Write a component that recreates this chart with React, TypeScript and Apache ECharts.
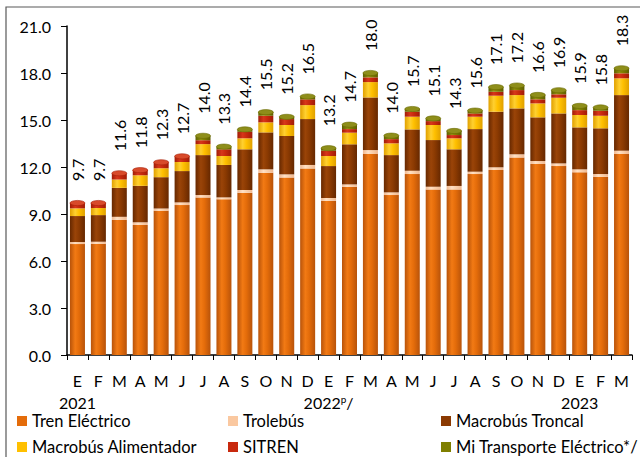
import React, { useEffect, useRef } from "react";
import * as echarts from "echarts";

const months = ["E","F","M","A","M","J","J","A","S","O","N","D","E","F","M","A","M","J","J","A","S","O","N","D","E","F","M"];
const years = ["2021","","","","","","","","","","","","2022{p|p}/","","","","","","","","","","","","2023","",""];
const totals = [9.7,9.7,11.6,11.8,12.3,12.7,14.0,13.3,14.4,15.5,15.2,16.5,13.2,14.7,18.0,14.0,15.7,15.1,14.3,15.6,17.1,17.2,16.6,16.9,15.9,15.8,18.3];

const trenElectrico = [7.08,7.1,8.62,8.3,9.2,9.57,10.06,9.94,10.36,11.63,11.33,11.91,9.85,10.74,12.83,10.21,11.55,10.57,10.57,11.55,11.81,12.61,12.19,12.06,11.66,11.38,12.83];
const trolebus = [0.13,0.13,0.2,0.17,0.15,0.17,0.15,0.12,0.17,0.22,0.2,0.22,0.17,0.15,0.25,0.17,0.21,0.17,0.22,0.15,0.17,0.2,0.19,0.17,0.19,0.17,0.21];
const macrobusTroncal = [1.66,1.7,1.85,2.33,2.0,2.0,2.55,2.07,2.6,2.36,2.45,2.93,2.04,2.56,3.36,2.38,2.64,2.98,2.34,2.72,3.55,2.93,2.79,3.19,2.68,2.92,3.55];
const macrobusAlimentador = [0.49,0.45,0.53,0.67,0.57,0.58,0.7,0.57,0.7,0.64,0.7,0.89,0.64,0.74,0.98,0.75,0.81,0.96,0.7,0.79,1.02,0.85,0.89,1.0,0.79,0.8,1.07];
const sitren = [0.34,0.32,0.4,0.33,0.38,0.36,0.25,0.43,0.42,0.42,0.38,0.37,0.34,0.23,0.3,0.27,0.32,0.25,0.21,0.21,0.25,0.32,0.26,0.22,0.31,0.32,0.32];
const miTransporte = [0,0,0,0,0,0,0.28,0.17,0.15,0.23,0.14,0.18,0.16,0.28,0.28,0.22,0.17,0.17,0.26,0.18,0.3,0.29,0.28,0.26,0.27,0.21,0.32];

const FONT = "Lato";

function cyl(edge: string, mid: string, hi: string) {
  return new echarts.graphic.LinearGradient(0, 0, 1, 0, [
    { offset: 0, color: edge },
    { offset: 0.35, color: hi },
    { offset: 0.6, color: mid },
    { offset: 1, color: edge },
  ]);
}

const seriesDefs = [
  { name: "Tren Eléctrico", data: trenElectrico, base: "#E46C0A", grad: ["#B8530A", "#E46C0A", "#F27A14"] },
  { name: "Trolebús", data: trolebus, base: "#FAC8A0", grad: ["#F0B890", "#FAD0AC", "#FFE0C4"] },
  { name: "Macrobús Troncal", data: macrobusTroncal, base: "#8B3A02", grad: ["#662800", "#8B3A02", "#9A4408"] },
  { name: "Macrobús Alimentador", data: macrobusAlimentador, base: "#FFC000", grad: ["#E0A000", "#FFC000", "#FFD030"] },
  { name: "SITREN", data: sitren, base: "#C8290E", grad: ["#A01C06", "#C8290E", "#D8361A"] },
  { name: "Mi Transporte Eléctrico*/", data: miTransporte, base: "#7F7F00", grad: ["#5E5E00", "#7F7F00", "#909010"] },
];

export default function App() {
  const ref = useRef<HTMLDivElement>(null);
  useEffect(() => {
    if (!ref.current) return;
    const chart = echarts.init(ref.current, undefined, { renderer: "svg" });
    const series: any[] = seriesDefs.map((s, i) => ({
      name: s.name,
      type: "bar",
      stack: "total",
      barWidth: 15,
      data: s.data,
      itemStyle: { color: cyl(s.grad[0], s.grad[1], s.grad[2]) },
      label: i === seriesDefs.length - 1 ? {
        show: true,
        position: "top",
        rotate: 90,
        align: "left",
        verticalAlign: "middle",
        distance: 22,
        fontFamily: FONT,
        fontSize: 16,
        color: "#000",
        formatter: (p: any) => totals[p.dataIndex].toFixed(1),
      } : { show: false },
    }));
    const stackTops = months.map((_, i) => seriesDefs.reduce((acc, s) => acc + s.data[i], 0));
    series.push({
      name: "caps",
      type: "custom",
      silent: true,
      z: 3,
      data: stackTops.map((v, i) => [i, v, miTransporte[i] > 0 ? 1 : 0]),
      renderItem: (params: any, api: any) => {
        const c = api.coord([api.value(0), api.value(1)]);
        const olive = api.value(2) === 1;
        const rx = 7.5, ry = 2.6;
        const x = c[0], y = c[1];
        const d = `M ${x - rx} ${y} A ${rx} ${ry} 0 1 0 ${x + rx} ${y} A ${rx} ${ry} 0 1 0 ${x - rx} ${y} Z`;
        return {
          type: "path",
          shape: { pathData: d },
          style: { fill: olive ? "#8E8E1A" : "#D84A2A", stroke: olive ? "#6A6A00" : "#A82008", lineWidth: 0.6 },
        };
      },
    });
    const legendItem = (n: number) => ({ name: seriesDefs[n].name, itemStyle: { color: seriesDefs[n].base } });
    const legendCommon = {
      orient: "vertical",
      top: 412,
      height: 80,
      icon: "rect",
      itemWidth: 10,
      itemHeight: 10,
      itemGap: 8,
      padding: 0,
      selectedMode: false,
      textStyle: { fontFamily: FONT, fontSize: 16.5, color: "#000", lineHeight: 18 },
    };
    chart.setOption({
      animation: false,
      backgroundColor: "#fff",
      grid: { left: 67, right: 8, top: 26, bottom: 102, containLabel: false },
      legend: [
        { ...legendCommon, left: 17, data: [legendItem(0), legendItem(3)] },
        { ...legendCommon, left: 228, data: [legendItem(1), legendItem(4)] },
        { ...legendCommon, left: 441, data: [legendItem(2), legendItem(5)] },
      ],
      xAxis: [
        {
          type: "category",
          data: months,
          axisLine: { lineStyle: { color: "#000", width: 1.5 } },
          axisTick: { show: true, length: 5, lineStyle: { color: "#000" } },
          axisLabel: { interval: 0, fontFamily: FONT, fontSize: 16, color: "#000", margin: 17 },
        },
        {
          type: "category",
          data: years,
          position: "bottom",
          axisLine: { show: false },
          axisTick: { show: false },
          axisLabel: {
            interval: 0,
            fontFamily: FONT,
            fontSize: 16,
            color: "#000",
            margin: 39,
            rich: { p: { fontFamily: FONT, fontSize: 10, verticalAlign: "top", padding: [0, 0, 6, 0], color: "#000" } },
          },
        },
      ],
      yAxis: {
        type: "value",
        min: 0,
        max: 21,
        interval: 3,
        axisLine: { show: true, lineStyle: { color: "#000", width: 1.5 } },
        axisTick: { show: true, length: 6, lineStyle: { color: "#000" } },
        splitLine: { show: false },
        axisLabel: { fontFamily: FONT, fontSize: 16, color: "#000", margin: 16, formatter: (v: number) => v.toFixed(1) },
      },
      graphic: [
        { type: "rect", shape: { x: 6, y: 7, width: 700, height: 500 }, style: { fill: "none", stroke: "#595959", lineWidth: 1.2 }, silent: true, z: 100 },
      ],
      series,
    });
    return () => chart.dispose();
  }, []);
  return <div ref={ref} style={{ position: "fixed", left: 0, top: 0, width: 640, height: 457, background: "#fff" }} />;
}
